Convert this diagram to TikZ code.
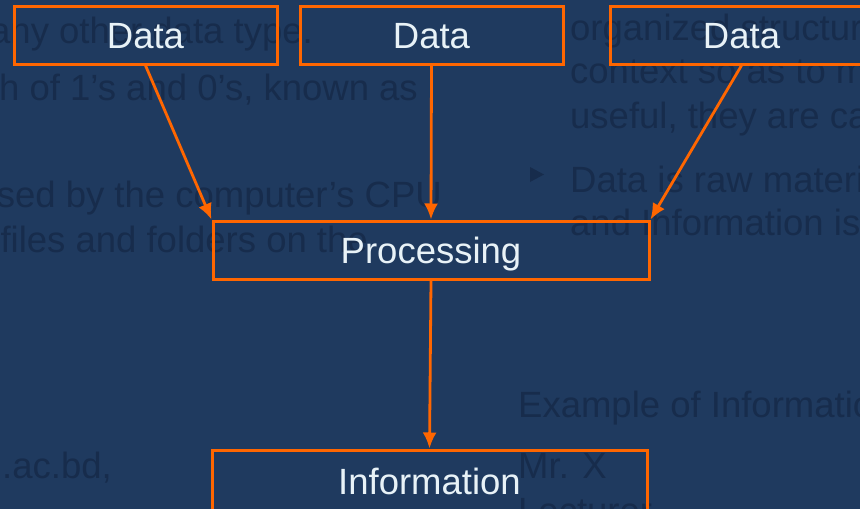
\documentclass[tikz,border=0pt]{standalone}
\usepackage{fontspec}
\setmainfont{Liberation Sans}
\usetikzlibrary{arrows.meta,positioning}
\definecolor{slidebg}{RGB}{31,58,95}
\definecolor{fadetext}{RGB}{23,44,76}
\definecolor{boxorange}{RGB}{255,102,0}
\definecolor{boxtext}{RGB}{232,242,247}

\begin{document}
\begin{tikzpicture}[x=1pt, y=-1pt, >={Latex[length=16pt,width=14pt]}]
    \tikzstyle{box}=[draw=boxorange,line width=3pt,text=boxtext,font=\fontsize{36.5}{40}\selectfont,minimum height=58pt,text height=26pt,text depth=0pt,inner sep=0pt]
    \tikzstyle{back}=[text=fadetext,font=\fontsize{36.5}{40}\selectfont,inner sep=0pt]
    \tikzstyle{flow}=[->,draw=boxorange,line width=2.8pt]

    \useasboundingbox (0,0) rectangle (860,509);
    \clip (0,0) rectangle (860,509);
    \fill[slidebg] (0,0) rectangle (860,509);

    % faded slide text behind the diagram
    \node[back,anchor=base east] (L1) at (313,43)  {any other data type.};
    \node[back,anchor=base east] (L2) at (418,100) {h of 1’s and 0’s, known as};
    \node[back,anchor=base east] (L3) at (442,207) {sed by the computer’s CPU};
    \node[back,anchor=base east] (L4) at (368,252) {files and folders on the};
    \node[back,anchor=base east] (L5) at (112,478) {u.ac.bd,};
    \node[back,anchor=base west] (R1) at (570,40)  {organized structure};
    \node[back,anchor=base west] (R2) at (570,83)  {context so as to make};
    \node[back,anchor=base west] (R3) at (570,128) {useful, they are called};
    \node[back,anchor=base west] (R4) at (570,192) {Data is raw material};
    \node[back,anchor=base west] (R5) at (570,235) {and Information is};
    \node[back,anchor=base west] (E1) at (518,417) {Example of Information};
    \node[back,anchor=base west] (E2) at (518,478) {Mr. X};
    \node[back,anchor=base west] (E3) at (518,523) {Lecturer};
    \fill[fadetext] (530,167) -- (544,174.5) -- (530,182) -- cycle;

    % boxes
    \node[box,minimum width=263pt] (D1) at (145.5,35) {Data};
    \node[box,minimum width=263pt] (D2) at (431.5,35) {Data};
    \node[box,minimum width=263pt] (D3) at (741.5,35) {Data};
    \node[box,minimum width=436pt] (P)  at (431,250)  {Processing};
    \node[box,minimum width=435pt,minimum height=62pt] (I) at (429.5,481) {Information};

    \path
    (D1.south) edge[flow] (P.north west)
    (D2.south) edge[flow] (P.north)
    (D3.south) edge[flow] (P.north east)
    (P.south)  edge[flow] (I.north);

\end{tikzpicture}
\end{document}
